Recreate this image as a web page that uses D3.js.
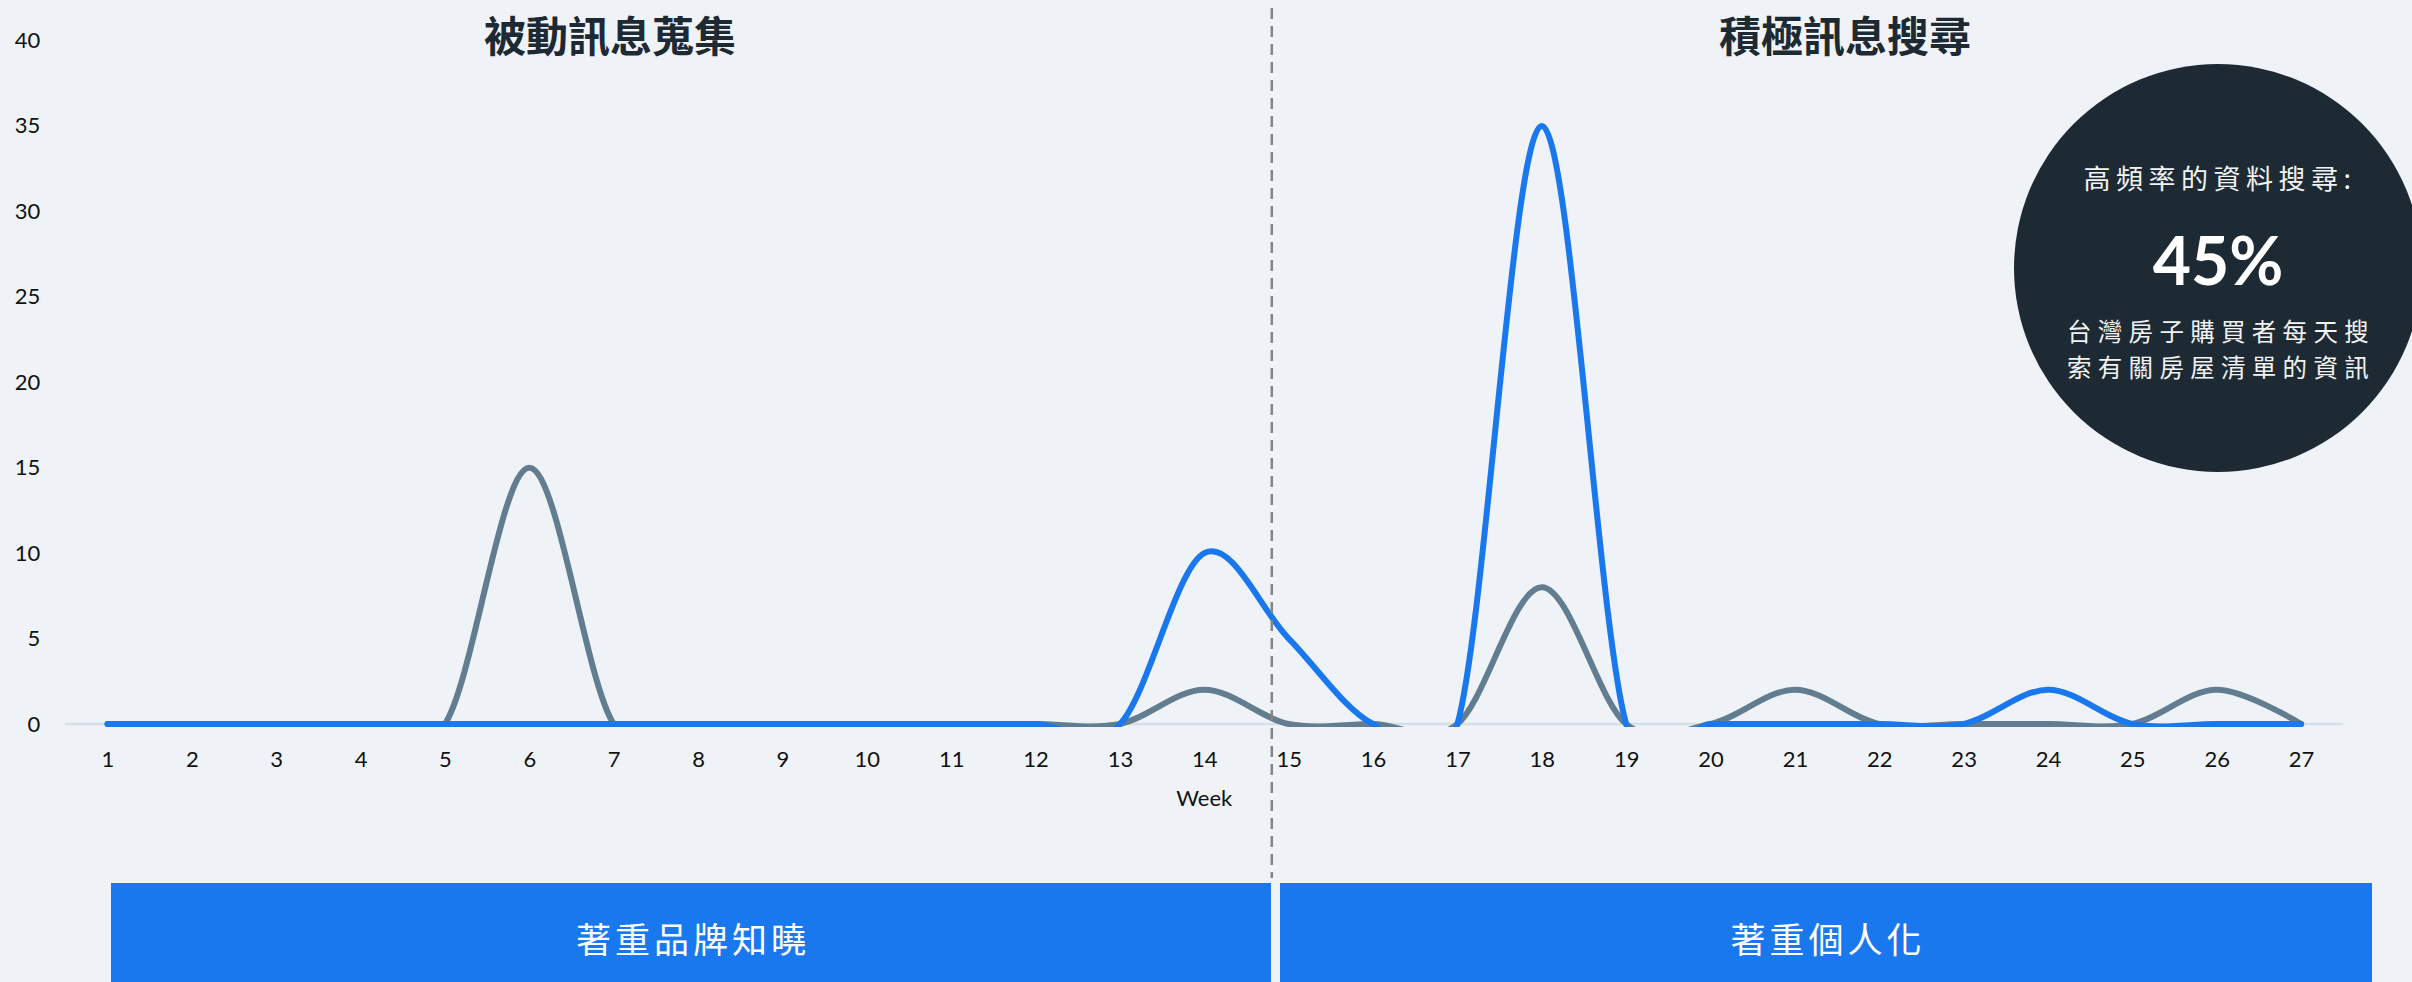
<!DOCTYPE html>
<html>
<head>
<meta charset="utf-8">
<script src="https://cdn.jsdelivr.net/npm/d3@7"></script>
<style>
  html, body { margin: 0; padding: 0; background: #eff3f7; }
  svg { display: block; }
  text { font-family: Lato, "Noto Sans CJK TC", sans-serif; }
  .cjk { font-family: "Noto Sans CJK TC", "Noto Sans CJK SC", sans-serif; }
</style>
</head>
<body>
<svg id="chart" width="2412" height="982"></svg>
<script>
// Weekly counts for the two tracked behaviours
const weeks = [1,2,3,4,5,6,7,8,9,10,11,12,13,14,15,16,17,18,19,20,21,22,23,24,25,26,27];
const seriesGray = [0,0,0,0,0,15,0,0,0,0,0,0,0,2,0,0,0,8,0,0,2,0,0,0,0,2,0];
const seriesBlue = [0,0,0,0,0,0,0,0,0,0,0,0,0,10,5,0,0,35,0,0,0,0,0,2,0,0,0];
const yTicks = [0,5,10,15,20,25,30,35,40];
const xAxisTitle = "Week";
const phaseTitles = ["被動訊息蒐集", "積極訊息搜尋"];
const phaseBands = ["著重品牌知曉", "著重個人化"];
const phaseSplitWeek = 14.8;
const calloutLines = ["高頻率的資料搜尋:", "45%", "台灣房子購買者每天搜", "索有關房屋清單的資訊"];

const W = 2412, H = 982;
const plot = { left: 65.3, right: 2343.3, top: 40.5, bottom: 724 };
const blue = "#1a78ee", gray = "#637d90", dark = "#1d2a34";

const svg = d3.select("#chart");
svg.append("rect").attr("width", W).attr("height", H).attr("fill", "#eff3f7");

const x = d3.scalePoint().domain(weeks).range([plot.left, plot.right]).padding(0.5);
const y = d3.scaleLinear().domain([0, 40]).range([plot.bottom, plot.top]);
const step = x.step();
const xCont = w => x(1) + (w - 1) * step;

// Zero baseline
svg.append("line")
  .attr("x1", plot.left).attr("x2", plot.right)
  .attr("y1", y(0)).attr("y2", y(0))
  .attr("stroke", "#d6e0e8").attr("stroke-width", 2.5);

// Y axis labels
const yAxis = svg.append("g")
  .attr("transform", `translate(${plot.left},0)`)
  .call(d3.axisLeft(y).tickValues(yTicks).tickSize(0).tickPadding(25));
yAxis.select(".domain").remove();
yAxis.selectAll("text").attr("font-size", 22).attr("fill", "#111")
  .attr("font-family", "Lato, sans-serif");

// X axis labels
const xAxis = svg.append("g")
  .attr("transform", `translate(0,${y(0)})`)
  .call(d3.axisBottom(x).tickSize(0).tickPadding(27));
xAxis.select(".domain").remove();
xAxis.selectAll("text").attr("font-size", 22).attr("fill", "#111")
  .attr("font-family", "Lato, sans-serif");

svg.append("text")
  .attr("x", (plot.left + plot.right) / 2).attr("y", 806)
  .attr("text-anchor", "middle").attr("font-size", 22).attr("fill", "#111")
  .text(xAxisTitle);

// Curves are clipped just below the baseline so spline undershoot is hidden
svg.append("clipPath").attr("id", "plotClip")
  .append("rect").attr("x", 0).attr("y", 0).attr("width", W).attr("height", y(0) + 3);

const line = d3.line()
  .x((d, i) => x(weeks[i]))
  .y(d => y(d))
  .curve(d3.curveCardinal.tension(0));

const lines = svg.append("g").attr("clip-path", "url(#plotClip)");
[[seriesGray, gray], [seriesBlue, blue]].forEach(([vals, color]) => {
  lines.append("path")
    .attr("d", line(vals))
    .attr("fill", "none")
    .attr("stroke", color)
    .attr("stroke-width", 6)
    .attr("stroke-linecap", "round")
    .attr("stroke-linejoin", "round");
});

// Phase divider
const splitX = xCont(phaseSplitWeek);
svg.append("line")
  .attr("x1", splitX).attr("x2", splitX)
  .attr("y1", 8).attr("y2", 878)
  .attr("stroke", "#858585").attr("stroke-width", 2.5)
  .attr("stroke-dasharray", "11,7");

// Phase titles
[[phaseTitles[0], 610], [phaseTitles[1], 1845]].forEach(([t, cx]) => {
  svg.append("text").attr("class", "cjk")
    .attr("x", cx).attr("y", 33)
    .attr("text-anchor", "middle").attr("dominant-baseline", "central")
    .attr("font-size", 42).attr("font-weight", 700).attr("fill", "#1e2a33")
    .text(t);
});

// Phase bands at the bottom
const bands = [
  { x0: 111, x1: 1271, label: phaseBands[0] },
  { x0: 1280, x1: 2372, label: phaseBands[1] }
];
bands.forEach(b => {
  svg.append("rect")
    .attr("x", b.x0).attr("y", 883).attr("width", b.x1 - b.x0).attr("height", H - 883)
    .attr("fill", blue);
  svg.append("text").attr("class", "cjk")
    .attr("x", (b.x0 + b.x1) / 2 + 2).attr("y", 937)
    .attr("text-anchor", "middle").attr("dominant-baseline", "central")
    .attr("font-size", 35).attr("letter-spacing", 4).attr("fill", "#ffffff")
    .text(b.label);
});

// Callout circle
const cx = 2218, cy = 268;
svg.append("circle").attr("cx", cx).attr("cy", cy).attr("r", 204).attr("fill", dark);
svg.append("text").attr("class", "cjk")
  .attr("x", cx + 2).attr("y", 177)
  .attr("text-anchor", "middle").attr("dominant-baseline", "central")
  .attr("font-size", 27).attr("letter-spacing", 5.5).attr("fill", "#f2f2f2")
  .text(calloutLines[0]);
svg.append("text")
  .attr("x", cx).attr("y", 285)
  .attr("text-anchor", "middle")
  .attr("font-family", "'Open Sans', sans-serif")
  .attr("font-size", 66).attr("font-weight", 700).attr("fill", "#ffffff")
  .text(calloutLines[1]);
[[calloutLines[2], 330], [calloutLines[3], 366]].forEach(([t, ty]) => {
  svg.append("text").attr("class", "cjk")
    .attr("x", cx + 3).attr("y", ty)
    .attr("text-anchor", "middle").attr("dominant-baseline", "central")
    .attr("font-size", 24.5).attr("letter-spacing", 6.3).attr("fill", "#f2f2f2")
    .text(t);
});
</script>
</body>
</html>
